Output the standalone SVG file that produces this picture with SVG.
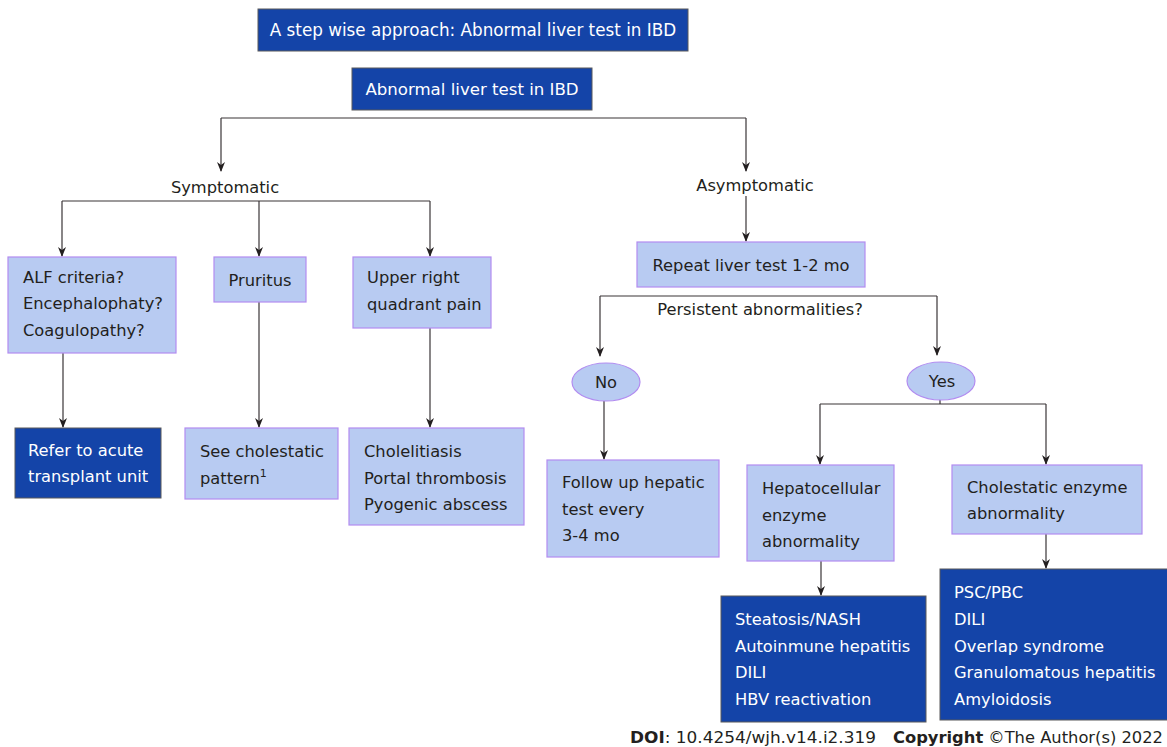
<svg xmlns="http://www.w3.org/2000/svg" width="1167" height="747" viewBox="0 0 1167 747">
<defs>
<marker id="ah" viewBox="0 0 10 10" refX="9" refY="5" markerWidth="10" markerHeight="10" markerUnits="userSpaceOnUse" orient="auto">
<path d="M0,1 L10,5 L0,9 L3,5 Z" fill="#231f20"/>
</marker>
<style>
text{font-family:"DejaVu Sans","Liberation Sans",sans-serif;font-size:16.3px;fill:#231f20}
.dk rect{fill:#1444a8;stroke:#58595b;stroke-width:1}
.dk text{fill:#ffffff}
.lt rect,.lt ellipse{fill:#b8cbf2;stroke:#b28cf0;stroke-width:1.2}
.c line,.c polyline{stroke:#3a3537;stroke-width:1.2;fill:none}
.arr{marker-end:url(#ah)}
.mid{text-anchor:middle}
.ft{font-size:16.5px}
</style>
</defs>
<rect width="1167" height="747" fill="#ffffff"/>
<g class="c" id="connectors">
<polyline points="221,118 746,118"/>
<line x1="221" y1="118" x2="221" y2="171" class="arr"/>
<line x1="746" y1="118" x2="746" y2="171" class="arr"/>
<polyline points="62,201 430,201"/>
<line x1="62" y1="201" x2="62" y2="256" class="arr"/>
<line x1="259" y1="201" x2="259" y2="256" class="arr"/>
<line x1="430" y1="201" x2="430" y2="256" class="arr"/>
<line x1="63" y1="353" x2="63" y2="427" class="arr"/>
<line x1="259" y1="302" x2="259" y2="427" class="arr"/>
<line x1="430" y1="328" x2="430" y2="427" class="arr"/>
<line x1="746" y1="196" x2="746" y2="241" class="arr"/>
<polyline points="600,296 937,296"/>
<line x1="600" y1="296" x2="600" y2="356" class="arr"/>
<line x1="937" y1="296" x2="937" y2="355" class="arr"/>
<line x1="604" y1="401" x2="604" y2="459" class="arr"/>
<line x1="940" y1="399" x2="940" y2="404"/>
<polyline points="820,404 1046,404"/>
<line x1="820" y1="404" x2="820" y2="464" class="arr"/>
<line x1="1046" y1="404" x2="1046" y2="464" class="arr"/>
<line x1="821" y1="561" x2="821" y2="595" class="arr"/>
<line x1="1046" y1="534" x2="1046" y2="568" class="arr"/>
</g>
<g id="title" class="dk"><rect x="258" y="9" width="430" height="42"/><text x="473" y="36" class="mid" style="font-size:16.8px">A step wise approach: Abnormal liver test in IBD</text></g>
<g id="root" class="dk"><rect x="352" y="68" width="240" height="42"/><text x="472" y="95" class="mid" style="font-size:16.6px">Abnormal liver test in IBD</text></g>
<g id="symptomatic"><text x="225" y="193" class="mid">Symptomatic</text></g>
<g id="asymptomatic"><text x="755" y="191" class="mid">Asymptomatic</text></g>
<g id="alf" class="lt"><rect x="8" y="257" width="168" height="96"/><text x="23" y="283">ALF criteria?</text><text x="23" y="309">Encephalophaty?</text><text x="23" y="336">Coagulopathy?</text></g>
<g id="pruritus" class="lt"><rect x="214" y="257" width="92" height="45"/><text x="260" y="286" class="mid">Pruritus</text></g>
<g id="urq" class="lt"><rect x="353" y="257" width="138" height="71"/><text x="367" y="283">Upper right</text><text x="367" y="310">quadrant pain</text></g>
<g id="refer" class="dk"><rect x="15" y="428" width="146" height="70"/><text x="28" y="456">Refer to acute</text><text x="28" y="482">transplant unit</text></g>
<g id="seechol" class="lt"><rect x="185" y="428" width="153" height="71"/><text x="200" y="457">See cholestatic</text><text x="200" y="484">pattern<tspan dy="-7" font-size="11">1</tspan></text></g>
<g id="chole" class="lt"><rect x="349" y="428" width="175" height="97"/><text x="364" y="457">Cholelitiasis</text><text x="364" y="484">Portal thrombosis</text><text x="364" y="510">Pyogenic abscess</text></g>
<g id="repeat" class="lt"><rect x="637" y="242" width="228" height="45"/><text x="751" y="271" class="mid">Repeat liver test 1-2 mo</text></g>
<g id="persistent"><text x="760" y="315" class="mid">Persistent abnormalities?</text></g>
<g id="no" class="lt"><ellipse cx="606" cy="382" rx="34" ry="19"/><text x="606" y="388" class="mid">No</text></g>
<g id="yes" class="lt"><ellipse cx="941" cy="381" rx="34" ry="19"/><text x="942" y="387" class="mid">Yes</text></g>
<g id="followup" class="lt"><rect x="547" y="460" width="172" height="97"/><text x="562" y="488">Follow up hepatic</text><text x="562" y="515">test every</text><text x="562" y="541">3-4 mo</text></g>
<g id="hepato" class="lt"><rect x="747" y="465" width="147" height="96"/><text x="762" y="494">Hepatocellular</text><text x="762" y="521">enzyme</text><text x="762" y="547">abnormality</text></g>
<g id="cholenz" class="lt"><rect x="952" y="465" width="190" height="69"/><text x="967" y="493">Cholestatic enzyme</text><text x="967" y="519">abnormality</text></g>
<g id="hepatodx" class="dk"><rect x="721" y="596" width="205" height="126"/><text x="735" y="625">Steatosis/NASH</text><text x="735" y="652">Autoinmune hepatitis</text><text x="735" y="678">DILI</text><text x="735" y="705">HBV reactivation</text></g>
<g id="choledx" class="dk"><rect x="940" y="569" width="228" height="151"/><text x="954" y="598">PSC/PBC</text><text x="954" y="625">DILI</text><text x="954" y="652">Overlap syndrome</text><text x="954" y="678">Granulomatous hepatitis</text><text x="954" y="705">Amyloidosis</text></g>
<g id="footer">
<text x="630" y="743" class="ft" textLength="246" lengthAdjust="spacingAndGlyphs"><tspan font-weight="bold">DOI</tspan>: 10.4254/wjh.v14.i2.319</text>
<text x="893" y="743" class="ft" textLength="270" lengthAdjust="spacingAndGlyphs"><tspan font-weight="bold">Copyright</tspan> ©The Author(s) 2022</text>
</g>
</svg>
